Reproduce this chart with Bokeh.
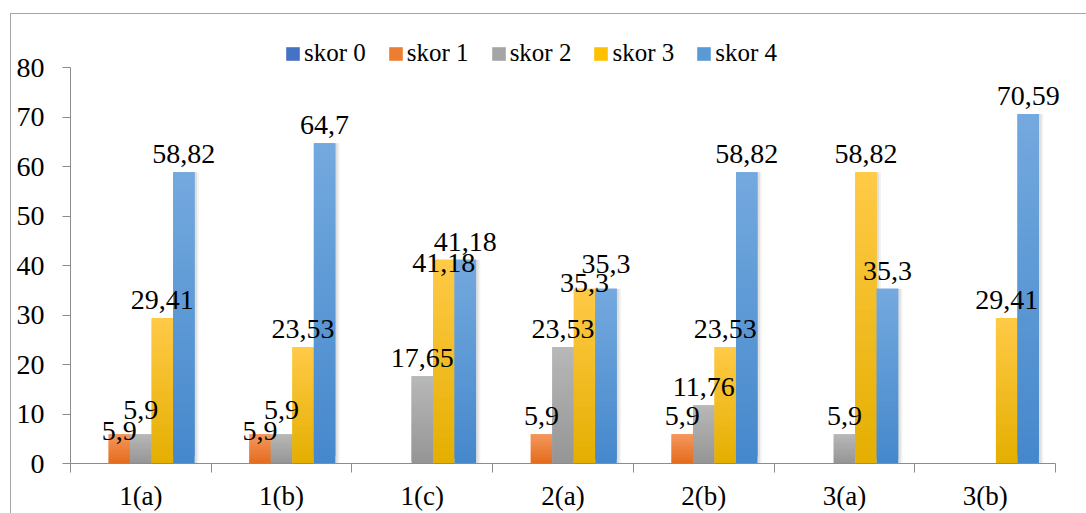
from bokeh.plotting import figure
from bokeh.models import (ColumnDataSource, Range1d, FixedTicker, LinearAxis,
                          Legend, LegendItem)
from bokeh.embed import file_html
from bokeh.resources import INLINE
from bokeh.core.properties import value

# ---------------- data ----------------
categories = ["1(a)", "1(b)", "1(c)", "2(a)", "2(b)", "3(a)", "3(b)"]
series_names = ["skor 0", "skor 1", "skor 2", "skor 3", "skor 4"]
skor0 = [0, 0, 0, 0, 0, 0, 0]
skor1 = [5.9, 5.9, 0, 5.9, 5.9, 0, 0]
skor2 = [5.9, 5.9, 17.65, 23.53, 11.76, 5.9, 0]
skor3 = [29.41, 23.53, 41.18, 35.3, 23.53, 58.82, 29.41]
skor4 = [58.82, 64.7, 41.18, 35.3, 58.82, 35.3, 70.59]
series_values = [skor0, skor1, skor2, skor3, skor4]
y_ticks = [0, 10, 20, 30, 40, 50, 60, 70, 80]

# ---------------- styles ----------------
FONT = "Liberation Serif"
AXIS_COL = "#8C8C8C"
TOP_COLS = ["#5A86D3", "#F5975C", "#B8B8B8", "#FFCA47", "#74A9DE"]
BOT_COLS = ["#3A66B6", "#E46C1E", "#959595", "#E4AF00", "#4588CC"]
MID_COLS = ["#4472C4", "#ED7D31", "#A5A5A5", "#FFC000", "#5B9BD5"]
BAR_W = 0.1528
N_BANDS = 40
Y_MAX, Y_VIEW_TOP = 80, 93.54    # axis ends at 80, frame continues up to hold the legend
X_VIEW_RIGHT = 6.72              # frame continues right so the last label is not clipped
# manual label nudges (pixels, + is down), as in the original chart
label_nudge = {(0, 1): 15, (0, 2): -6, (1, 1): 15, (1, 2): -6,
               (2, 3): 21, (3, 3): 12, (3, 4): -7}


def hex2rgb(h):
    return tuple(int(h[i:i + 2], 16) for i in (1, 3, 5))


def mix(c1, c2, t):
    a, b = hex2rgb(c1), hex2rgb(c2)
    return "#%02x%02x%02x" % tuple(round(a[k] + (b[k] - a[k]) * t) for k in range(3))


ncat = len(categories)
p = figure(width=1086, height=513,
           x_range=Range1d(-0.5, X_VIEW_RIGHT), y_range=Range1d(0, Y_VIEW_TOP),
           output_backend="svg", toolbar_location=None,
           x_axis_location=None, y_axis_location=None,
           min_border_left=70, min_border_right=0,
           min_border_top=0, min_border_bottom=50)
p.grid.grid_line_color = None
p.outline_line_color = None
p.background_fill_alpha = 0
p.border_fill_alpha = 0
p.styles = {"box-shadow": "inset 10px 0 0 #ffffff, inset 0 13px 0 #ffffff, "
                          "inset 11px 0 0 #A6A6A6, inset 0 14px 0 #A6A6A6"}

# axes
yaxis = LinearAxis(ticker=FixedTicker(ticks=y_ticks), bounds=(0, Y_MAX))
yaxis.axis_line_color = AXIS_COL
yaxis.major_tick_line_color = AXIS_COL
yaxis.major_tick_out = 8
yaxis.major_tick_in = 0
yaxis.minor_tick_line_color = None
yaxis.major_label_standoff = 18
yaxis.major_label_text_font = FONT
yaxis.major_label_text_font_size = "28px"
yaxis.major_label_text_color = "black"
p.add_layout(yaxis, "left")

xaxis = LinearAxis(ticker=FixedTicker(ticks=list(range(ncat)),
                                      minor_ticks=[i - 0.5 for i in range(ncat + 1)]),
                   bounds=(-0.5, ncat - 0.5))
xaxis.major_label_overrides = {i: c for i, c in enumerate(categories)}
xaxis.axis_line_color = AXIS_COL
xaxis.major_tick_line_color = None
xaxis.major_tick_out = 0
xaxis.major_tick_in = 0
xaxis.minor_tick_line_color = AXIS_COL
xaxis.minor_tick_out = 9
xaxis.minor_tick_in = 0
xaxis.major_label_standoff = 8
xaxis.major_label_text_font = FONT
xaxis.major_label_text_font_size = "27px"
xaxis.major_label_text_color = "black"
p.add_layout(xaxis, "below")

# soft shadows (mostly to the right of each bar)
for j, vals in enumerate(series_values):
    xs, tops = [], []
    for i, v in enumerate(vals):
        if v > 0:
            xs.append(i + (j - 2) * BAR_W)
            tops.append(v)
    src = ColumnDataSource(dict(x=[x + 0.02 for x in xs], x2=[x + 0.012 for x in xs], top=tops))
    p.vbar(x="x", top="top", bottom=0, width=BAR_W + 0.02, source=src,
           fill_color="black", fill_alpha=0.05, line_color=None)
    p.vbar(x="x2", top="top", bottom=0, width=BAR_W + 0.01, source=src,
           fill_color="black", fill_alpha=0.08, line_color=None)

# gradient bars
for j, vals in enumerate(series_values):
    xs, bots, tops, cols = [], [], [], []
    for i, v in enumerate(vals):
        if v <= 0:
            continue
        for k in range(N_BANDS):
            xs.append(i + (j - 2) * BAR_W)
            bots.append(v * k / N_BANDS)
            tops.append(v * min(k + 2, N_BANDS) / N_BANDS)
            cols.append(mix(BOT_COLS[j], TOP_COLS[j], (k + 0.5) / N_BANDS))
    src = ColumnDataSource(dict(x=xs, bottom=bots, top=tops, color=cols))
    p.vbar(x="x", bottom="bottom", top="top", width=BAR_W, source=src,
           fill_color="color", line_color=None)

# data labels
lx, ly, lt, loff = [], [], [], []
for j, vals in enumerate(series_values):
    for i, v in enumerate(vals):
        if v <= 0:
            continue
        lx.append(i + (j - 2) * BAR_W)
        ly.append(v)
        lt.append(("%g" % v).replace(".", ","))
        loff.append(-18 + label_nudge.get((i, j), 0))
p.text(x="x", y="y", text="t", y_offset="off",
       source=ColumnDataSource(dict(x=lx, y=ly, t=lt, off=loff)),
       text_align="center", text_baseline="alphabetic",
       text_font=value(FONT), text_font_size="28px", text_color="black")

# legend (proxy renderers sit outside the visible x range)
items = []
for j, name in enumerate(series_names):
    r = p.vbar(x=[-5], top=[1], bottom=[0], width=0.1,
               fill_color=MID_COLS[j], line_color=None)
    items.append(LegendItem(label=name, renderers=[r]))
legend = Legend(items=items, orientation="horizontal", location=(214, 396),
                padding=0, margin=0, spacing=21, label_standoff=3,
                glyph_width=17, glyph_height=17,
                border_line_color=None, background_fill_alpha=0,
                label_text_font=FONT, label_text_font_size="25px",
                label_text_color="black")
p.add_layout(legend, "center")

open("out.html", "w").write(file_html(p, INLINE))
